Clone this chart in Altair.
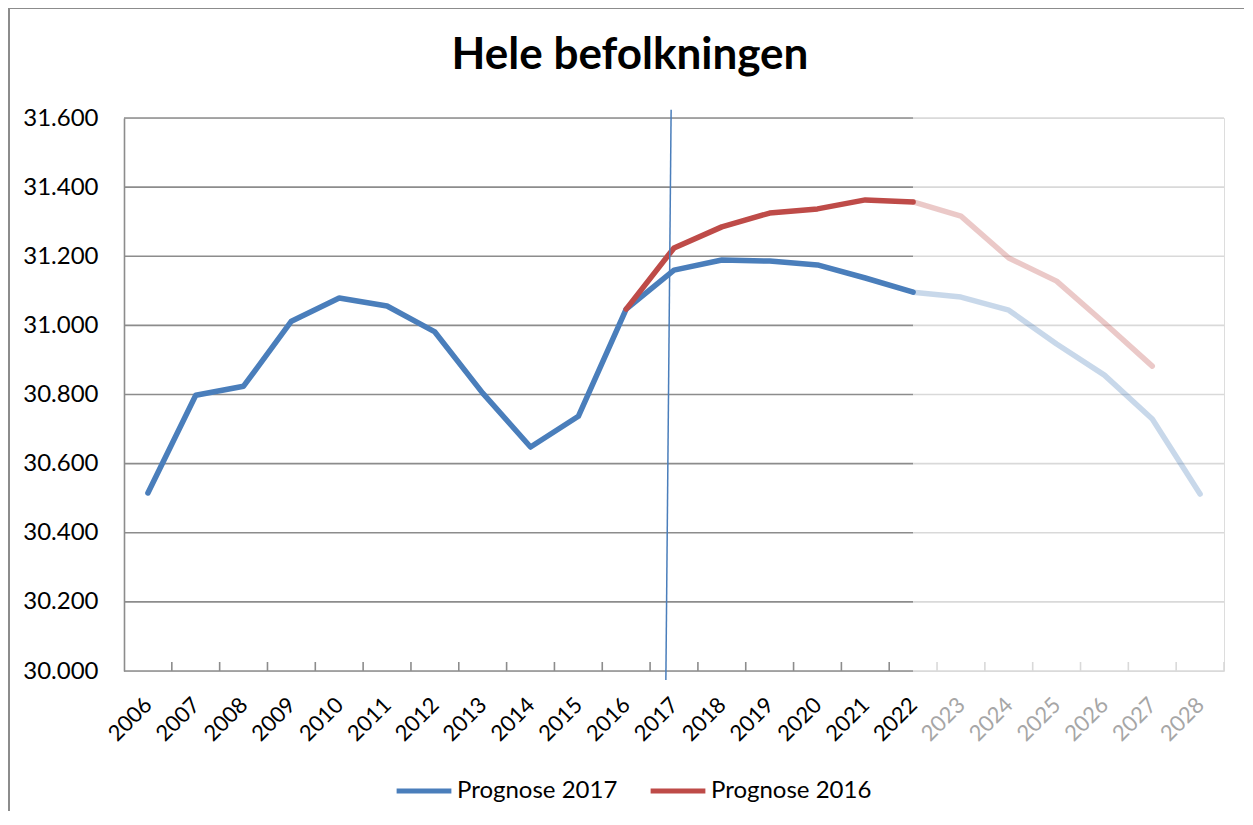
import altair as alt
import pandas as pd

years = list(range(2006, 2029))
prognose_2017 = [30515, 30798, 30824, 31012, 31079, 31056, 30981, 30804, 30648, 30737,
                 31047, 31160, 31189, 31186, 31175, 31137, 31096, 31082, 31044, 30946,
                 30856, 30729, 30512]
prognose_2016 = [None, None, None, None, None, None, None, None, None, None,
                 31047, 31224, 31285, 31325, 31337, 31363, 31357, 31316, 31195, 31128,
                 31007, 30882, None]
series_names = ["Prognose 2017", "Prognose 2016"]
series_colors = ["#4a7ebb", "#be4b48"]
y_ticks = [30000, 30200, 30400, 30600, 30800, 31000, 31200, 31400, 31600]
title_text = "Hele befolkningen"
last_known = 2022
marker_year = 2017

rows = []
for name, vals in zip(series_names, [prognose_2017, prognose_2016]):
    for yr, v in zip(years, vals):
        if v is not None:
            rows.append({"year": yr, "value": v, "series": name})
df = pd.DataFrame(rows)
solid = df[df.year <= last_known]
faded = df[df.year >= last_known]

xmin, xmax = years[0] - 0.5, years[-1] + 0.5
W, H = 1100, 553
FONT = "Lato"

xs = alt.Scale(domain=[xmin, xmax], nice=False, zero=False)
ys = alt.Scale(domain=[y_ticks[0], y_ticks[-1]], nice=False, zero=False)

xaxis = alt.Axis(values=years, format="d", labelAngle=-45, labelAlign="right",
                 labelBaseline="middle", labelPadding=30, labelFontSize=22, labelFont=FONT,
                 labelColor={"condition": {"test": f"datum.value > {last_known}", "value": "#a6a6a6"},
                             "value": "#000000"},
                 ticks=False, domain=False, grid=False, title=None, labelFlush=False,
                 labelOverlap=False)
yaxis = alt.Axis(values=y_ticks, labelExpr="replace(format(datum.value, ','), ',', '.')",
                 labelFontSize=24, labelFont=FONT, labelColor="black", labelPadding=26,
                 ticks=False, domain=True, domainColor="#8c8c8c", domainWidth=1.6,
                 grid=False, title=None)

color = alt.Color("series:N", scale=alt.Scale(domain=series_names, range=series_colors),
                  sort=series_names,
                  legend=alt.Legend(title=None, orient="none", direction="horizontal",
                                    legendX=270, legendY=643, padding=0, symbolType="stroke",
                                    symbolSize=3000, symbolStrokeWidth=5, symbolOpacity=1,
                                    labelFontSize=24, labelFont=FONT, labelColor="black",
                                    labelOffset=3, columnPadding=22, labelLimit=400))

# gridlines split into dark (past) and light (forecast) portions
grid_rows = []
for yv in y_ticks:
    grid_rows.append({"y": yv, "x1": xmin, "x2": last_known, "part": "dark"})
    grid_rows.append({"y": yv, "x1": last_known, "x2": xmax, "part": "light"})
grid_df = pd.DataFrame(grid_rows)
tick_rows = [{"x": b, "part": "dark" if b < last_known else "light"}
             for b in [yr + 0.5 for yr in years]]
tick_df = pd.DataFrame(tick_rows)
part_scale = alt.Scale(domain=["dark", "light"], range=["#8c8c8c", "#d9d9d9"])

grid = alt.Chart(grid_df).mark_rule(strokeWidth=1.6).encode(
    x=alt.X("x1:Q", scale=xs, axis=xaxis), x2="x2:Q",
    y=alt.Y("y:Q", scale=ys, axis=yaxis),
    stroke=alt.Stroke("part:N", scale=part_scale, legend=None))

ticks = alt.Chart(tick_df).mark_rule(strokeWidth=1.6).encode(
    x=alt.X("x:Q", scale=xs, axis=xaxis),
    y=alt.value(H - 9), y2=alt.value(H),
    stroke=alt.Stroke("part:N", scale=part_scale, legend=None))

marker = alt.Chart(pd.DataFrame({"x": [marker_year - 0.06], "x2": [marker_year - 0.17],
                                 "y": [y_ticks[-1] + 24], "y2": [y_ticks[0] - 26]})).mark_rule(
    color="#4a7ebb", strokeWidth=1.5).encode(
    x=alt.X("x:Q", scale=xs, axis=xaxis), x2="x2:Q",
    y=alt.Y("y:Q", scale=ys, axis=yaxis), y2="y2:Q")

faded_lines = alt.Chart(faded).mark_line(strokeWidth=5.5, opacity=0.3, strokeCap="round",
                                         strokeJoin="round").encode(
    x=alt.X("year:Q", scale=xs, axis=xaxis),
    y=alt.Y("value:Q", scale=ys, axis=yaxis),
    color=color, detail="series:N")

solid_lines = alt.Chart(solid).mark_line(strokeWidth=5.5, strokeCap="round",
                                         strokeJoin="round").encode(
    x=alt.X("year:Q", scale=xs, axis=xaxis),
    y=alt.Y("value:Q", scale=ys, axis=yaxis),
    color=color, detail="series:N")

# outer chart frame (left and top edges; right and bottom run off the page)
frame_left = alt.Chart(alt.Data(values=[{}])).mark_rule(color="#8c8c8c", strokeWidth=2).encode(
    x=alt.value(-115), y=alt.value(-110), y2=alt.value(H + 200))
frame_top = alt.Chart(alt.Data(values=[{}])).mark_rule(color="#8c8c8c", strokeWidth=2).encode(
    x=alt.value(-115), x2=alt.value(W + 100), y=alt.value(-110))

title = alt.Chart(alt.Data(values=[{"t": title_text}])).mark_text(
    font=FONT, fontSize=44, fontWeight="bold", color="black", align="center",
    baseline="alphabetic").encode(
    text="t:N", x=alt.value(506), y=alt.value(-49))

chart = alt.layer(frame_left, frame_top, grid, ticks, faded_lines, solid_lines, marker,
                  title).properties(
    width=W, height=H,
    autosize=alt.AutoSizeParams(type="none"),
    padding={"left": 116, "top": 110, "right": 20, "bottom": 140},
).configure_view(stroke="transparent", strokeWidth=0).configure(background="white")

chart.save("out.html", embed_options={"renderer": "svg", "actions": False})
